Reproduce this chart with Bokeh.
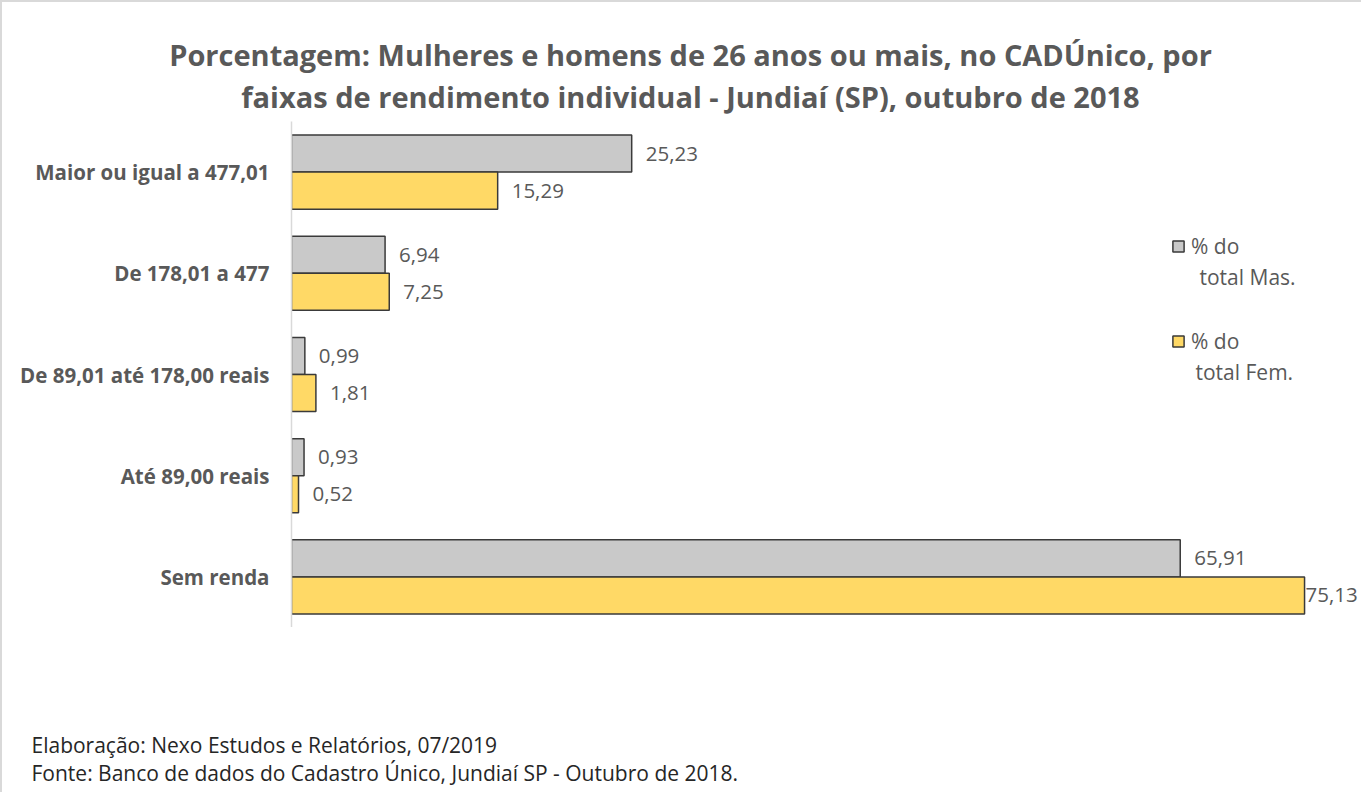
from bokeh.plotting import figure
from bokeh.layouts import column
from bokeh.models import FactorRange, Range1d, ColumnDataSource, Label, Legend, LegendItem
from bokeh.transform import dodge
from bokeh.embed import file_html
from bokeh.resources import INLINE
from bokeh.core.properties import value

categories = ["Maior ou igual a 477,01", "De 178,01 a 477", "De 89,01 até 178,00 reais",
              "Até 89,00 reais", "Sem renda"]
mas_values = [25.23, 6.94, 0.99, 0.93, 65.91]
fem_values = [15.29, 7.25, 1.81, 0.52, 75.13]
series_first = ["% do", "% do"]
series_second = ["total Mas.", "total Fem."]
title_lines = ["Porcentagem: Mulheres e homens de 26 anos ou mais, no CADÚnico, por",
               "faixas de rendimento individual - Jundiaí (SP), outubro de 2018"]
footer_lines = ["Elaboração: Nexo Estudos e Relatórios, 07/2019",
                "Fonte: Banco de dados do Cadastro Único, Jundiaí SP - Outubro de 2018."]

FONT = "Open Sans"
TXT = "#595959"
GRAY = "#C9C9C9"
GOLD = "#FFD966"
EDGE = "#3a3a3a"

def fmt(v):
    return f"{v:.2f}".replace(".", ",")

fem_max = max(fem_values)
src = ColumnDataSource(dict(
    cat=categories,
    mas=mas_values,
    fem=fem_values,
    mas_lbl=[fmt(v) for v in mas_values],
    fem_lbl=[fmt(v) for v in fem_values],
    fem_off=[1 if v == fem_max else 14 for v in fem_values],
))

W = 1359
TOP_H, MAIN_H, BOT_H = 119, 506, 165
LEFT = 289
PX_PER_UNIT = 13.484


def blank(h):
    f = figure(width=W, height=h, output_backend="svg", toolbar_location=None,
               x_range=Range1d(0, W), y_range=Range1d(0, h),
               x_axis_location=None, y_axis_location=None,
               min_border=0, min_border_left=0, min_border_right=0,
               min_border_top=0, min_border_bottom=0, frame_align=False)
    f.outline_line_color = None
    f.grid.visible = False
    f.background_fill_color = "white"
    f.border_fill_color = "white"
    return f


# title block
top = blank(TOP_H)
for y, line in zip([67, 25], title_lines):
    top.add_layout(Label(x=688, y=y, x_units="screen", y_units="screen",
                         text=line, text_align="center", text_baseline="middle",
                         text_font=FONT, text_font_style="bold", text_font_size="29px",
                         text_color=TXT))

# main chart
p = figure(width=W, height=MAIN_H, output_backend="svg", toolbar_location=None,
           y_range=FactorRange(factors=list(reversed(categories))),
           x_range=Range1d(0, (W - LEFT) / PX_PER_UNIT), x_axis_location=None,
           min_border_left=LEFT, min_border_right=0, min_border_top=0,
           min_border_bottom=0, frame_align=False)
p.outline_line_color = None
p.grid.visible = False
p.background_fill_color = "white"
p.border_fill_color = "white"

bh = 0.366
r_mas = p.hbar(y=dodge("cat", bh / 2, range=p.y_range), right="mas", left=0, height=bh,
               source=src, fill_color=GRAY, line_color=EDGE, line_width=1.5)
r_fem = p.hbar(y=dodge("cat", -bh / 2, range=p.y_range), right="fem", left=0, height=bh,
               source=src, fill_color=GOLD, line_color=EDGE, line_width=1.5)

p.text(x="mas", y=dodge("cat", bh / 2, range=p.y_range), text="mas_lbl", source=src,
       x_offset=14, text_baseline="middle", text_align="left",
       text_font=value(FONT), text_font_size="20.5px", text_color=TXT)
p.text(x="fem", y=dodge("cat", -bh / 2, range=p.y_range), text="fem_lbl", source=src,
       x_offset="fem_off", text_baseline="middle", text_align="left",
       text_font=value(FONT), text_font_size="20.5px", text_color=TXT)

ax = p.yaxis[0]
ax.major_tick_line_color = None
ax.minor_tick_line_color = None
ax.axis_line_color = "#D9D9D9"
ax.axis_line_width = 1.5
ax.major_label_text_font = FONT
ax.major_label_text_font_style = "bold"
ax.major_label_text_font_size = "20.5px"
ax.major_label_text_color = TXT
ax.major_label_standoff = 16

legend = Legend(items=[LegendItem(label=series_first[0], renderers=[r_mas]),
                       LegendItem(label=series_first[1], renderers=[r_fem])],
                location=(880, 272), orientation="vertical",
                background_fill_alpha=0, border_line_color=None,
                glyph_width=14, glyph_height=14, label_standoff=6,
                label_text_font=FONT, label_text_font_size="21px",
                label_text_color=TXT, spacing=67, padding=0, margin=0)
p.add_layout(legend)

for (x, y), line in zip([(908, 351), (904, 256)], series_second):
    p.add_layout(Label(x=x, y=y, x_units="screen", y_units="screen",
                       text=line, text_align="left", text_baseline="middle",
                       text_font=FONT, text_font_size="21px", text_color=TXT))

# footer block
bot = blank(BOT_H)
for y, line in zip([48, 20], footer_lines):
    bot.add_layout(Label(x=29, y=y, x_units="screen", y_units="screen",
                         text=line, text_align="left", text_baseline="middle",
                         text_font=FONT, text_font_size="21px", text_color="#262626"))

layout = column(top, p, bot, spacing=0)
layout.styles = {"border-top": "2px solid #D9D9D9", "border-left": "2px solid #D9D9D9"}

open("out.html", "w").write(file_html(layout, INLINE))
